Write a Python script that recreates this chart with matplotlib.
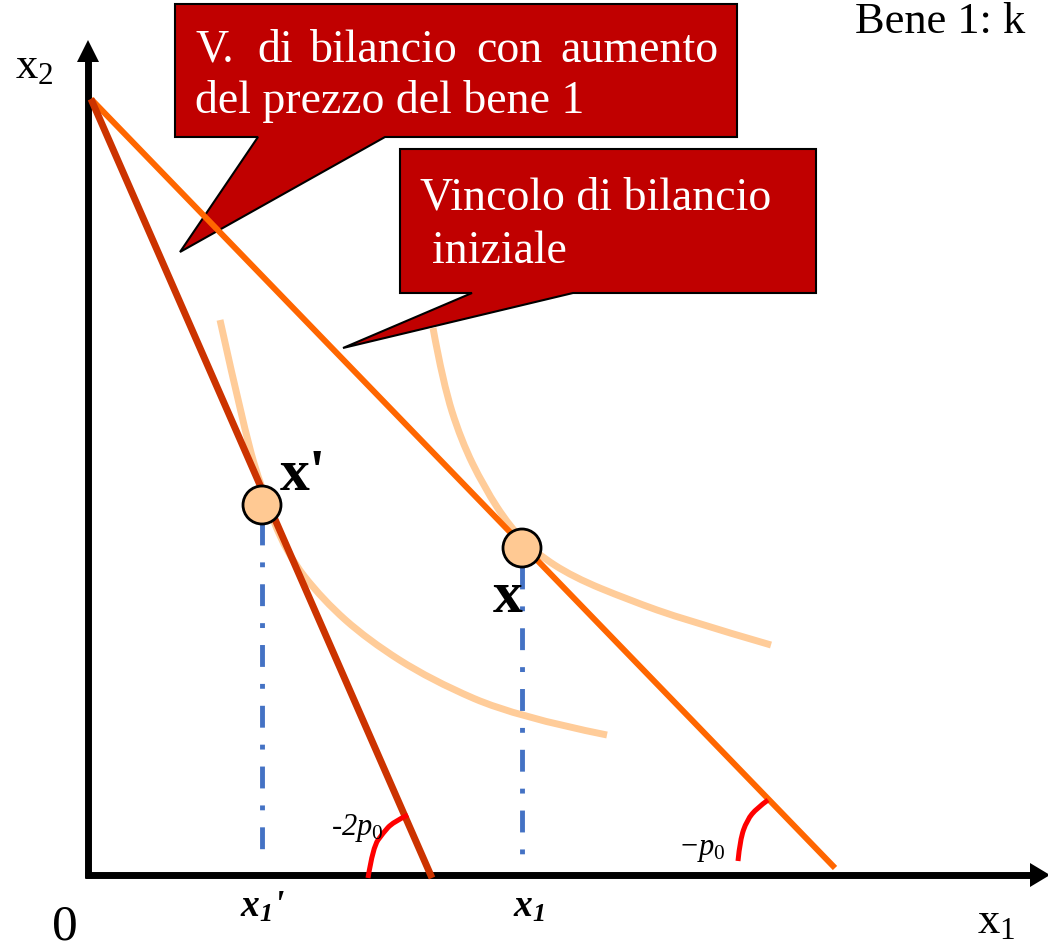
import numpy as np
import matplotlib
matplotlib.use("Agg")
import matplotlib.pyplot as plt
from matplotlib.path import Path
from matplotlib.patches import PathPatch, Polygon, Circle

plt.rcParams["font.family"] = ["Liberation Serif", "DejaVu Serif"]
plt.rcParams["mathtext.fontset"] = "custom"
plt.rcParams["mathtext.rm"] = "Liberation Serif"
plt.rcParams["mathtext.it"] = "Liberation Serif:italic"
plt.rcParams["mathtext.bf"] = "Liberation Serif:bold"
plt.rcParams["mathtext.bfit"] = "Liberation Serif:italic:bold"

# diagram units: origin at the corner of the axes, 1 unit ~ 1 px
BUDGET_INIT_X = [3, 747]
BUDGET_INIT_Y = [776, 7]
BUDGET_NEW_X = [3, 344]
BUDGET_NEW_Y = [776, -3]

IC1_X = [132, 157, 174, 198, 235, 280, 343, 429, 519]
IC1_Y = [555, 442, 385, 322, 275, 235, 195, 158, 140]
IC2_X = [345, 355, 373, 396, 422, 448, 485, 541, 597, 683]
IC2_Y = [547, 492, 435, 388, 348, 322, 298, 275, 255, 230]

OPT_NEW = (174, 370)   # x'
OPT_INIT = (434, 327)  # x
DROP_NEW_Y = [352, 20]
DROP_INIT_Y = [308, 13]

ARC1_X = [280, 285, 295, 305, 320]
ARC1_Y = [-3, 28, 42, 53, 60]
ARC2_X = [650, 652, 659, 669, 680]
ARC2_Y = [14, 35, 55, 67, 75]

CALLOUT1_X = [87, 649, 649, 297, 92, 170, 87]
CALLOUT1_Y = [871, 871, 738, 738, 623, 738, 738]
CALLOUT2_X = [312, 728, 728, 485, 255, 384, 312]
CALLOUT2_Y = [726, 726, 582, 582, 527, 582, 582]

CALLOUT1_WORDS = ["V.", "di", "bilancio", "con", "aumento"]
CALLOUT1_WORD_X = [107, 169, 222, 388, 472]

C_INIT = "#FF6600"
C_NEW = "#CC3300"
C_IC = "#FFCC99"
C_DOT = "#FFC993"
C_DROP = "#4472C4"
C_CALLOUT = "#C00000"


def smooth_path(xs, ys):
    pts = np.column_stack([xs, ys]).astype(float)
    verts, codes = [pts[0]], [Path.MOVETO]
    n = len(pts)
    for i in range(1, n - 1):
        end = (pts[i] + pts[i + 1]) / 2 if i < n - 2 else pts[i + 1]
        verts += [pts[i], end]
        codes += [Path.CURVE3, Path.CURVE3]
    return Path(verts, codes)


fig = plt.figure(figsize=(10.48, 9.52), dpi=100)
ax = fig.add_axes([0, 0, 1, 1])
ax.set_xlim(-88, 960)
ax.set_ylim(-77, 875)
ax.axis("off")

# callouts (behind the lines)
ax.add_patch(Polygon(np.column_stack([CALLOUT1_X, CALLOUT1_Y]), closed=True,
                     fc=C_CALLOUT, ec="black", lw=1.5, zorder=1))
ax.add_patch(Polygon(np.column_stack([CALLOUT2_X, CALLOUT2_Y]), closed=True,
                     fc=C_CALLOUT, ec="black", lw=1.5, zorder=1))
# first line is justified in the original, so place word by word
for w, wx in zip(CALLOUT1_WORDS, CALLOUT1_WORD_X):
    ax.text(wx, 813, w, color="white", fontsize=33, zorder=2)
ax.text(107, 762, "del prezzo del bene 1", color="white", fontsize=33, zorder=2)
ax.text(332, 665, "Vincolo di bilancio", color="white", fontsize=33, zorder=2)
ax.text(344, 612, "iniziale", color="white", fontsize=33, zorder=2)

# axes
ax.plot([0, 0], [-3, 815], color="black", lw=5, solid_capstyle="butt", zorder=3)
ax.plot([-3, 945], [0, 0], color="black", lw=5, solid_capstyle="butt", zorder=3)
ax.add_patch(Polygon([(-11, 813), (11, 813), (0, 835)], closed=True, fc="black", ec="none", zorder=3))
ax.add_patch(Polygon([(942, -12), (942, 12), (962, 0)], closed=True, fc="black", ec="none", zorder=3))

# indifference curves
for xs, ys in [(IC1_X, IC1_Y), (IC2_X, IC2_Y)]:
    ax.add_patch(PathPatch(smooth_path(xs, ys), fill=False, ec=C_IC, lw=5, zorder=4))

# budget lines
ax.plot(BUDGET_INIT_X, BUDGET_INIT_Y, color=C_INIT, lw=4.3, solid_capstyle="butt", zorder=5)
ax.plot(BUDGET_NEW_X, BUDGET_NEW_Y, color=C_NEW, lw=5, solid_capstyle="butt", zorder=5)

# slope arcs
for xs, ys in [(ARC1_X, ARC1_Y), (ARC2_X, ARC2_Y)]:
    ax.add_patch(PathPatch(smooth_path(xs, ys), fill=False, ec="#FF0000", lw=3.6,
                           capstyle="butt", zorder=6))

# drop lines to the x1 axis
ax.plot([OPT_NEW[0]] * 2, DROP_NEW_Y, color=C_DROP, lw=3.5, ls=(0, (4.5, 3.5, 1, 3.5)),
        solid_capstyle="butt", zorder=6)
ax.plot([OPT_INIT[0]] * 2, DROP_INIT_Y, color=C_DROP, lw=3.5, ls=(0, (4.5, 3.5, 1, 3.5)),
        solid_capstyle="butt", zorder=6)

# optimum points
for c in [OPT_NEW, OPT_INIT]:
    ax.add_patch(Circle(c, 19, fc=C_DOT, ec="black", lw=2, zorder=7))

# labels
ax.text(-73, 797, "x$_{2}$", fontsize=32)
ax.text(-36, -64, "0", fontsize=37)
ax.text(889, -58, "x$_{1}$", fontsize=32)
ax.text(767, 842, "Bene 1: k", fontsize=32)
ax.text(192, 385, "x'", fontsize=43, fontweight="bold", zorder=8)
ax.text(405, 263, "x", fontsize=43, fontweight="bold", zorder=8)
ax.text(152, -42, r"$\mathbfit{x}_{\mathbfit{1}}$'", fontsize=27,
        fontweight="bold", fontstyle="italic")
ax.text(425, -42, r"$\mathbfit{x}_{\mathbfit{1}}$", fontsize=27)
ax.text(243, 40, r"-2$p_{\mathit{0}}$", fontsize=22, fontstyle="italic", zorder=8)
ax.text(590, 20, r"−$p_{\mathit{0}}$", fontsize=22, fontstyle="italic", zorder=8)

fig.savefig("out.png", dpi=100)
